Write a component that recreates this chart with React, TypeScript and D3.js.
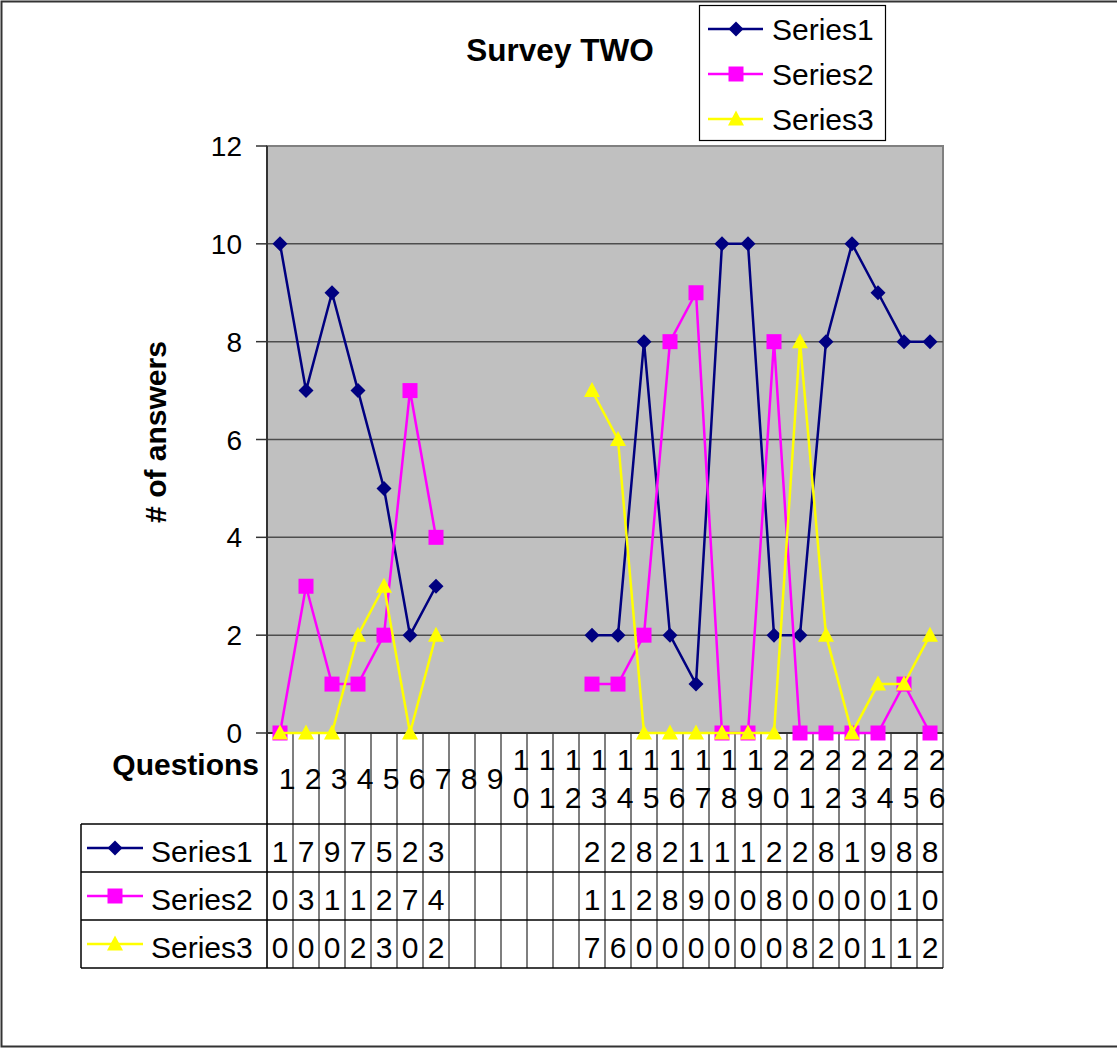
import * as d3 from 'd3'

const categories = ['1', '2', '3', '4', '5', '6', '7', '8', '9', '10', '11', '12', '13',
  '14', '15', '16', '17', '18', '19', '20', '21', '22', '23', '24', '25', '26']

const series1 = [10, 7, 9, 7, 5, 2, 3, null, null, null, null, null, 2, 2, 8, 2, 1, 10, 10, 2, 2, 8, 10, 9, 8, 8]
const series2 = [0, 3, 1, 1, 2, 7, 4, null, null, null, null, null, 1, 1, 2, 8, 9, 0, 0, 8, 0, 0, 0, 0, 1, 0]
const series3 = [0, 0, 0, 2, 3, 0, 2, null, null, null, null, null, 7, 6, 0, 0, 0, 0, 0, 0, 8, 2, 0, 1, 1, 2]

const seriesNames = ['Series1', 'Series2', 'Series3']
const yTicks = [0, 2, 4, 6, 8, 10, 12]

const FONT = '"Liberation Sans", Arial, sans-serif'
const colors = ['#000080', '#FF00FF', '#FFFF00']
const shapes = ['diamond', 'square', 'triangle']

const plot = { left: 267, right: 943, top: 146, bottom: 733 }
const table = { left: 81, top: 824, rowH: 48, bottom: 968 }

function markerPath(shape: string, cx: number, cy: number): string {
  if (shape === 'diamond') {
    const r = 7.5
    return `M${cx},${cy - r}L${cx + r},${cy}L${cx},${cy + r}L${cx - r},${cy}Z`
  }
  if (shape === 'square') {
    const r = 7.5
    return `M${cx - r},${cy - r}h${2 * r}v${2 * r}h${-2 * r}Z`
  }
  return `M${cx},${cy - 8.5}L${cx + 8},${cy + 6.5}L${cx - 8},${cy + 6.5}Z`
}

function Marker({ shape, x, y, color }: { shape: string; x: number; y: number; color: string }) {
  return <path d={markerPath(shape, x, y)} fill={color} />
}

export default function App() {
  const allSeries = [series1, series2, series3]

  const x = d3.scaleBand<string>()
    .domain(categories)
    .range([plot.left, plot.right])

  const y = d3.scaleLinear()
    .domain([0, 12])
    .range([plot.bottom, plot.top])

  const bw = x.bandwidth()
  const cx = (c: string) => x(c)! + bw / 2

  const line = d3.line<number | null>()
    .defined(d => d !== null)
    .x((_, i) => cx(categories[i]))
    .y(d => y(d as number))

  return (
    <svg
      width={1117}
      height={1049}
      style={{ position: 'absolute', left: 0, top: 0, background: '#fff' }}
      fontFamily={FONT}
    >
      {/* outer frame */}
      <rect x={1.5} y={1.5} width={1130} height={1045} fill="#fff" stroke="#333" strokeWidth={2} />

      {/* title */}
      <text x={560} y={61} textAnchor="middle" fontSize={31.5} fontWeight="bold">Survey TWO</text>

      {/* plot area */}
      <rect x={plot.left} y={plot.top} width={plot.right - plot.left} height={plot.bottom - plot.top}
        fill="#C0C0C0" stroke="#808080" strokeWidth={2} />

      {/* gridlines + y ticks */}
      {yTicks.map(t => (
        <g key={t}>
          {t > 0 && t < 12 && (
            <line x1={plot.left} x2={plot.right} y1={y(t)} y2={y(t)} stroke="#4d4d4d" strokeWidth={1.5} />
          )}
          <line x1={256} x2={plot.left} y1={y(t)} y2={y(t)} stroke="#333" strokeWidth={1.5} />
          <text x={242} y={y(t) + 10} textAnchor="end" fontSize={28}>{t}</text>
        </g>
      ))}

      {/* y axis title */}
      <text transform="translate(166,432) rotate(-90)" textAnchor="middle" fontSize={30} fontWeight="bold">
        # of answers
      </text>

      {/* category divider lines through labels and table */}
      {categories.map(c => (
        <line key={c} x1={x(c)! + bw} x2={x(c)! + bw} y1={plot.bottom} y2={table.bottom}
          stroke="#555" strokeWidth={1.5} />
      ))}
      <line x1={plot.left} x2={plot.left} y1={plot.top} y2={table.bottom} stroke="#333" strokeWidth={2} />

      {/* category labels (wrapped one digit per line) */}
      <text x={259} y={775} textAnchor="end" fontSize={30} fontWeight="bold">Questions</text>
      {categories.map(c => {
        const chars = c.split('')
        const lh = 38
        const y0 = 789 - ((chars.length - 1) * lh) / 2
        return (
          <text key={c} textAnchor="middle" fontSize={30}>
            {chars.map((ch, j) => (
              <tspan key={j} x={cx(c) + 7} y={y0 + j * lh}>{ch}</tspan>
            ))}
          </text>
        )
      })}

      {/* data table */}
      {[0, 1, 2, 3].map(r => (
        <line key={r} x1={table.left} x2={plot.right} y1={table.top + r * table.rowH} y2={table.top + r * table.rowH}
          stroke="#000" strokeWidth={1.5} />
      ))}
      <line x1={table.left} x2={table.left} y1={table.top} y2={table.bottom} stroke="#000" strokeWidth={1.5} />
      {allSeries.map((s, si) => {
        const rowMid = table.top + si * table.rowH + table.rowH / 2
        return (
          <g key={si}>
            <line x1={87} x2={143} y1={rowMid} y2={rowMid} stroke={colors[si]} strokeWidth={2.5} />
            <Marker shape={shapes[si]} x={115} y={rowMid} color={colors[si]} />
            <text x={151} y={rowMid + 14} fontSize={30}>{seriesNames[si]}</text>
            {s.map((v, i) => v === null ? null : (
              <text key={i} x={cx(categories[i])} y={rowMid + 14} textAnchor="middle" fontSize={30}>
                {String(v).charAt(0)}
              </text>
            ))}
          </g>
        )
      })}

      {/* x axis line */}
      <line x1={plot.left} x2={plot.right} y1={plot.bottom} y2={plot.bottom} stroke="#333" strokeWidth={2} />

      {/* series */}
      {allSeries.map((s, si) => (
        <g key={si}>
          <path d={line(s) ?? ''} fill="none" stroke={colors[si]} strokeWidth={2.5} />
          {s.map((v, i) => v === null ? null : (
            <Marker key={i} shape={shapes[si]} x={cx(categories[i])} y={y(v)} color={colors[si]} />
          ))}
        </g>
      ))}

      {/* legend */}
      <rect x={699.5} y={5.5} width={186} height={135} fill="#fff" stroke="#000" strokeWidth={1.2} />
      {seriesNames.map((n, si) => {
        const ly = 29 + si * 45
        return (
          <g key={n}>
            <line x1={708} x2={763} y1={ly} y2={ly} stroke={colors[si]} strokeWidth={2.5} />
            <Marker shape={shapes[si]} x={736} y={ly} color={colors[si]} />
            <text x={772} y={ly + 11} fontSize={30}>{n}</text>
          </g>
        )
      })}
    </svg>
  )
}
